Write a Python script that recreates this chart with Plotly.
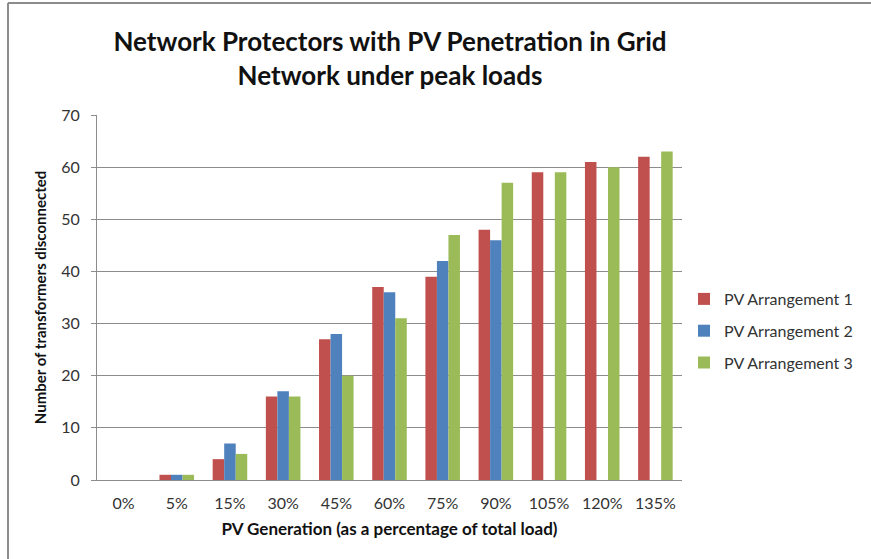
import plotly.graph_objects as go

categories = ["0%", "5%", "15%", "30%", "45%", "60%", "75%", "90%", "105%", "120%", "135%"]
arrangement1 = [0, 1, 4, 16, 27, 37, 39, 48, 59, 61, 62]
arrangement2 = [0, 1, 7, 17, 28, 36, 42, 46, 0, 0, 0]
arrangement3 = [0, 1, 5, 16, 20, 31, 47, 57, 59, 60, 63]
series_names = ["PV Arrangement 1", "PV Arrangement 2", "PV Arrangement 3"]
colors = ["#C0504D", "#4F81BD", "#9BBB59"]
y_ticks = [0, 10, 20, 30, 40, 50, 60, 70]

FONT = "Lato"
W, H = 871, 559
L, R, T, B = 97, 682, 115, 480

fig = go.Figure()
for name, vals, c in zip(series_names, [arrangement1, arrangement2, arrangement3], colors):
    fig.add_trace(go.Bar(x=categories, y=vals, name=name, marker_color=c,
                         marker_line_width=0, legendgroup=name))

def px(xp):
    return (xp - L) / (R - L)

def py(yp):
    return (B - yp) / (B - T)

fig.update_layout(
    width=W, height=H,
    margin=dict(l=L, r=W - R, t=T, b=H - B, autoexpand=False),
    paper_bgcolor="white", plot_bgcolor="white",
    font=dict(family=FONT, color="#333", size=16),
    barmode="group", bargap=0.35, bargroupgap=0,
    title=dict(text="<b>Network Protectors with PV Penetration in Grid<br>Network under peak loads</b>",
               x=px(390), xref="paper", xanchor="center",
               yref="container", y=1 - 51 / H, yanchor="middle",
               font=dict(family=FONT, size=26, color="#111")),
    xaxis=dict(showline=True, linecolor="#8c8c8c", linewidth=1,
               ticks="outside", ticklen=9, tickcolor="rgba(0,0,0,0)",
               tickfont=dict(size=16, color="#333"),
               title=dict(text="<b>PV Generation (as a percentage of total load)</b>",
                          font=dict(size=17, color="#111"), standoff=11)),
    yaxis=dict(range=[0, 70], tickvals=y_ticks, showgrid=True, gridcolor="#8c8c8c",
               gridwidth=1, showline=True, linecolor="#8c8c8c", linewidth=1,
               ticks="outside", ticklen=5, tickcolor="#8c8c8c", ticklabelstandoff=8,
               tickfont=dict(size=16, color="#333"), zeroline=False,
               title=dict(text="<b>Number of transformers disconnected</b>",
                          font=dict(size=15, color="#111"), standoff=10)),
    legend=dict(x=px(684), xanchor="left", y=py(282), yanchor="top",
                font=dict(size=16, color="#333"), tracegroupgap=8,
                itemwidth=30, bgcolor="rgba(0,0,0,0)"),
    showlegend=True,
    shapes=[
        dict(type="line", xref="paper", yref="paper", x0=px(8), x1=px(871), y0=py(3), y1=py(3),
             line=dict(color="#8c8c8c", width=2)),
        dict(type="line", xref="paper", yref="paper", x0=px(8), x1=px(8), y0=py(3), y1=py(559),
             line=dict(color="#8c8c8c", width=2)),
    ],
)

fig.write_html("out.html")
